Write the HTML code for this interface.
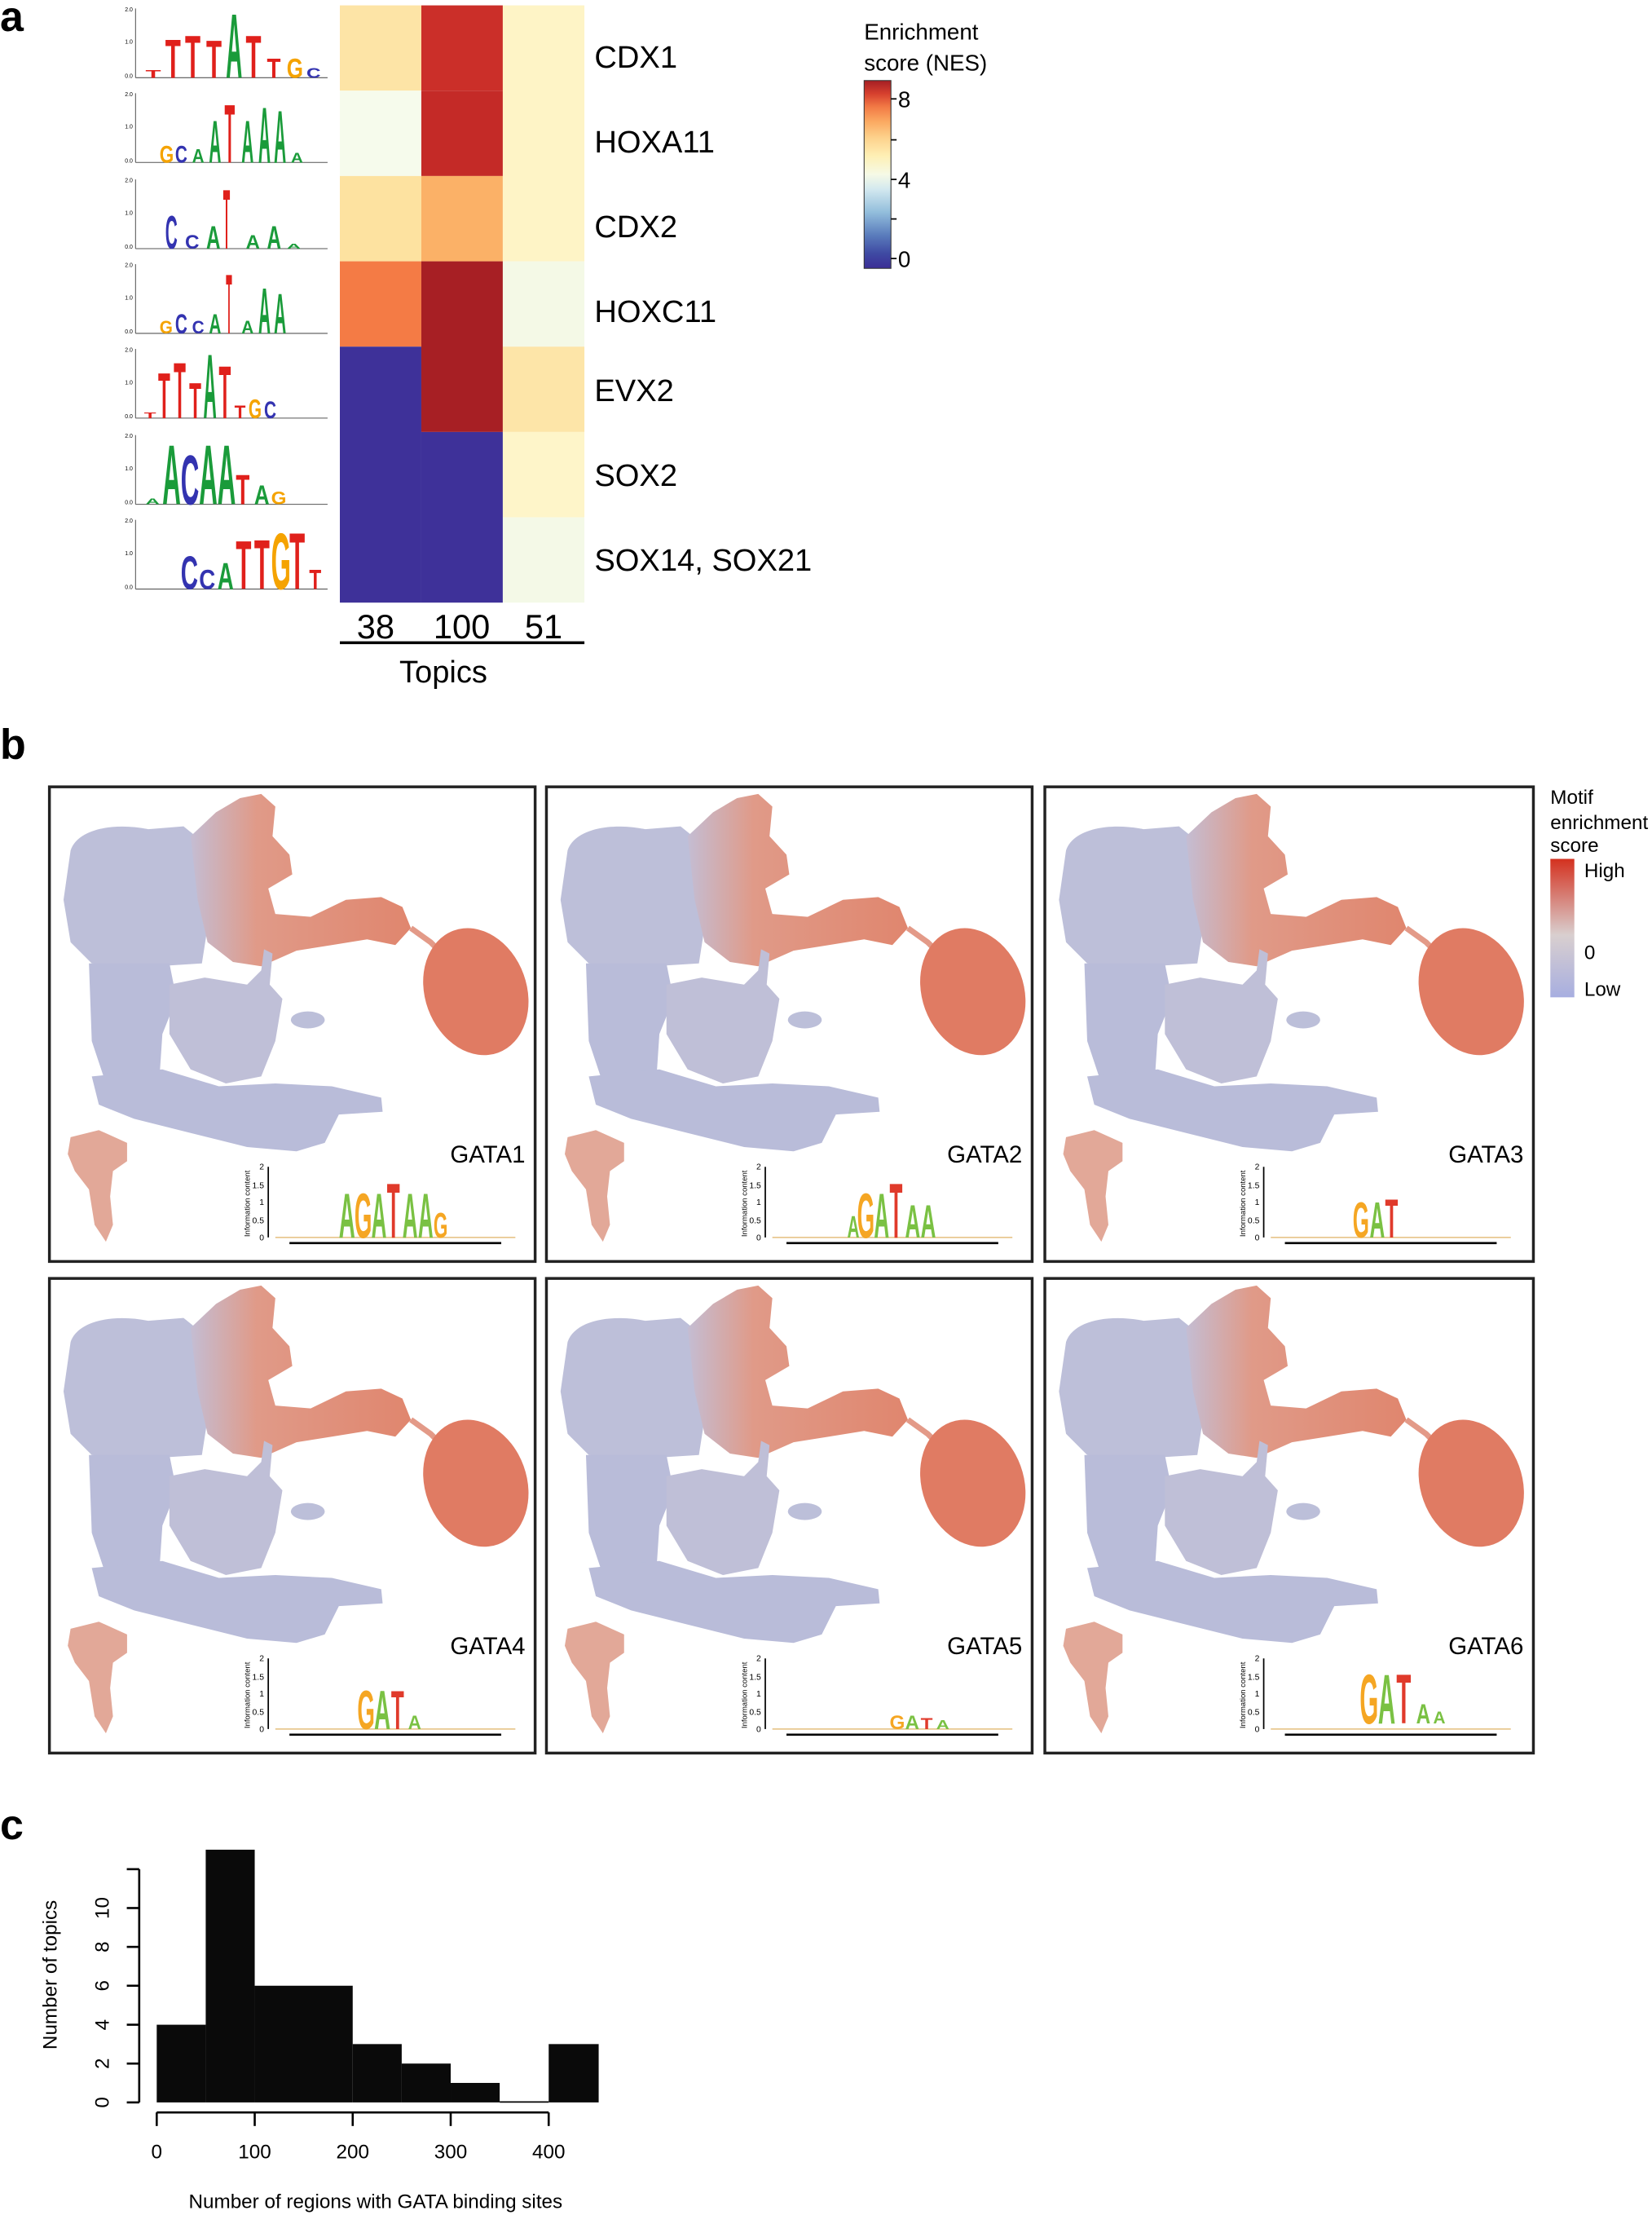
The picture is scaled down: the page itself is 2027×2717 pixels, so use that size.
<!DOCTYPE html>
<html><head><meta charset="utf-8"><style>
html,body{margin:0;padding:0;background:#fff}
svg{display:block}
text{font-family:"Liberation Sans",Arial,sans-serif}
</style></head><body>
<svg width="2027" height="2717" viewBox="0 0 1170 1568" preserveAspectRatio="none" xmlns="http://www.w3.org/2000/svg">
<defs>
<linearGradient id="nes" x1="0" y1="1" x2="0" y2="0">
<stop offset="0" stop-color="#3b2e96"/><stop offset="0.08" stop-color="#3f4aa3"/><stop offset="0.18" stop-color="#5b7ebd"/><stop offset="0.3" stop-color="#93bedc"/><stop offset="0.42" stop-color="#d2e8ef"/><stop offset="0.5" stop-color="#f6fae6"/><stop offset="0.6" stop-color="#feefb4"/><stop offset="0.7" stop-color="#fdd08a"/><stop offset="0.78" stop-color="#fbaa62"/><stop offset="0.86" stop-color="#f27a45"/><stop offset="0.93" stop-color="#d6402e"/><stop offset="1" stop-color="#a51e24"/>
</linearGradient>
<linearGradient id="mot" x1="0" y1="0" x2="0" y2="1">
<stop offset="0" stop-color="#d4311f"/><stop offset="0.55" stop-color="#d9cfcf"/><stop offset="1" stop-color="#a7aee0"/>
</linearGradient>
<linearGradient id="redb" x1="0" y1="0" x2="1" y2="0">
<stop offset="0" stop-color="#c4bdd3"/><stop offset="0.3" stop-color="#e09a88"/><stop offset="1" stop-color="#e0866e"/>
</linearGradient>
<g id="umap">
<path d="M15,45 C20,30 45,25 70,30 L95,28 L110,40 L115,80 L108,125 L60,128 L30,125 L15,110 L10,80 Z" fill="#bdbfd9"/>
<path d="M100,35 L118,18 L135,8 L150,5 L160,14 L158,35 L170,48 L172,62 L155,72 L160,90 L185,92 L210,80 L235,78 L250,85 L256,100 L245,112 L225,108 L200,112 L175,116 L150,127 L130,124 L112,110 L105,80 Z" fill="url(#redb)"/>
<path d="M256,100 L270,110 L282,122" stroke="#e39a88" stroke-width="4" fill="none"/>
<ellipse cx="302" cy="145" rx="36" ry="46" transform="rotate(-20 302 145)" fill="#e07b63"/>
<path d="M28,125 L85,125 L90,150 L80,175 L78,205 L40,210 L30,180 Z" fill="#b9bcd9"/>
<path d="M85,140 L110,135 L140,140 L150,130 L152,115 L158,118 L156,140 L165,150 L160,180 L150,205 L125,210 L100,200 L85,175 Z" fill="#bfbfd7"/>
<ellipse cx="183" cy="165" rx="12" ry="6" fill="#bcbfd9"/>
<path d="M30,205 L80,200 L120,212 L160,210 L200,212 L235,220 L236,230 L205,232 L195,252 L175,258 L140,255 L100,245 L60,235 L35,225 Z" fill="#b9bcd9"/>
<path d="M15,248 L35,243 L55,252 L55,265 L45,272 L43,290 L45,310 L40,322 L32,310 L28,285 L18,272 L13,260 Z" fill="#e2a898"/>
<line x1="155" y1="269" x2="155" y2="319" stroke="#000" stroke-width="1"/>
<g font-size="6" text-anchor="end"><text x="152" y="271">2</text><text x="152" y="284">1.5</text><text x="152" y="296">1</text><text x="152" y="309">0.5</text><text x="152" y="321">0</text></g>
<text transform="translate(142,295) rotate(-90)" font-size="5.5" text-anchor="middle">Information content</text>
<line x1="170" y1="323" x2="320" y2="323" stroke="#000" stroke-width="1.5"/>
<line x1="160" y1="319" x2="330" y2="319" stroke="#e8c890" stroke-width="1"/>
</g>
</defs>

<!-- Panel a -->
<text x="0" y="22" font-size="30" font-weight="bold">a</text>
<g>
<rect x="240.7" y="3.8" width="57.7" height="60.4" fill="#fde4a6"/>
<rect x="240.7" y="64.2" width="57.7" height="60.4" fill="#f6fbec"/>
<rect x="240.7" y="124.6" width="57.7" height="60.4" fill="#fde2a0"/>
<rect x="240.7" y="185" width="57.7" height="60.4" fill="#f47b45"/>
<rect x="240.7" y="245.4" width="57.7" height="181.2" fill="#3e3199"/>
<rect x="298.4" y="3.8" width="57.7" height="60.4" fill="#cb2f29"/>
<rect x="298.4" y="64.2" width="57.7" height="60.4" fill="#c42a27"/>
<rect x="298.4" y="124.6" width="57.7" height="60.4" fill="#fbb167"/>
<rect x="298.4" y="185" width="57.7" height="120.8" fill="#a71f24"/>
<rect x="298.4" y="305.8" width="57.7" height="120.8" fill="#3e3199"/>
<rect x="356.1" y="3.8" width="57.8" height="181.2" fill="#fef4c6"/>
<rect x="356.1" y="185" width="57.8" height="60.4" fill="#f4f9e6"/>
<rect x="356.1" y="245.4" width="57.8" height="60.4" fill="#fde5a8"/>
<rect x="356.1" y="305.8" width="57.8" height="60.4" fill="#fef5c9"/>
<rect x="356.1" y="366.2" width="57.8" height="60.4" fill="#f4f9e7"/>
</g>
<g font-size="22">
<text x="421" y="48">CDX1</text><text x="421" y="108">HOXA11</text><text x="421" y="168">CDX2</text><text x="421" y="228">HOXC11</text><text x="421" y="284">EVX2</text><text x="421" y="344">SOX2</text><text x="421" y="404">SOX14, SOX21</text>
</g>
<g font-size="24" text-anchor="middle"><text x="266" y="452">38</text><text x="327" y="452">100</text><text x="385" y="452">51</text></g>
<line x1="240.7" y1="455" x2="413.9" y2="455" stroke="#000" stroke-width="2"/>
<text x="314" y="483" font-size="22" text-anchor="middle">Topics</text>
<text x="612" y="28" font-size="16">Enrichment</text>
<text x="612" y="50" font-size="16">score (NES)</text>
<rect x="612" y="57" width="19" height="133" fill="url(#nes)" stroke="#333" stroke-width="0.6"/>
<g stroke="#000" stroke-width="1"><line x1="631" y1="70" x2="635" y2="70"/><line x1="631" y1="99" x2="635" y2="99"/><line x1="631" y1="127" x2="635" y2="127"/><line x1="631" y1="155" x2="635" y2="155"/><line x1="631" y1="183" x2="635" y2="183"/></g>
<g font-size="16"><text x="636" y="76">8</text><text x="636" y="133">4</text><text x="636" y="189">0</text></g>

<!-- sequence logos -->
<g font-size="4" text-anchor="end">
<text x="94" y="8">2.0</text><text x="94" y="31">1.0</text><text x="94" y="55">0.0</text>
<text x="94" y="68">2.0</text><text x="94" y="91">1.0</text><text x="94" y="115">0.0</text>
<text x="94" y="129">2.0</text><text x="94" y="152">1.0</text><text x="94" y="176">0.0</text>
<text x="94" y="189">2.0</text><text x="94" y="212">1.0</text><text x="94" y="236">0.0</text>
<text x="94" y="249">2.0</text><text x="94" y="272">1.0</text><text x="94" y="296">0.0</text>
<text x="94" y="310">2.0</text><text x="94" y="333">1.0</text><text x="94" y="357">0.0</text>
<text x="94" y="370">2.0</text><text x="94" y="393">1.0</text><text x="94" y="417">0.0</text>
</g>
<g stroke="#555" stroke-width="0.6">
<line x1="96" y1="6" x2="96" y2="55"/><line x1="96" y1="55" x2="232" y2="55"/>
<line x1="96" y1="66" x2="96" y2="115"/><line x1="96" y1="115" x2="232" y2="115"/>
<line x1="96" y1="127" x2="96" y2="176"/><line x1="96" y1="176" x2="232" y2="176"/>
<line x1="96" y1="187" x2="96" y2="236"/><line x1="96" y1="236" x2="232" y2="236"/>
<line x1="96" y1="247" x2="96" y2="296"/><line x1="96" y1="296" x2="232" y2="296"/>
<line x1="96" y1="308" x2="96" y2="357"/><line x1="96" y1="357" x2="232" y2="357"/>
<line x1="96" y1="368" x2="96" y2="417"/><line x1="96" y1="417" x2="232" y2="417"/>
</g>
<g font-size="10" font-weight="bold">
<!-- row0 CDX1 base 55 -->
<text fill="#e0201b" transform="translate(103,55) scale(1.8,0.8)">T</text>
<text fill="#e0201b" transform="translate(117,55) scale(1.8,3.9)">T</text>
<text fill="#e0201b" transform="translate(131,55) scale(1.8,4.3)">T</text>
<text fill="#e0201b" transform="translate(146,55) scale(1.8,3.8)">T</text>
<text fill="#1a9b3a" transform="translate(160,55) scale(1.6,6.5)">A</text>
<text fill="#e0201b" transform="translate(174,55) scale(1.8,4.3)">T</text>
<text fill="#e0201b" transform="translate(189,55) scale(1.6,2)">T</text>
<text fill="#f5a300" transform="translate(203,55) scale(1.5,2)">G</text>
<text fill="#3333b0" transform="translate(217,55) scale(1.4,1)">C</text>
<!-- row1 HOXA11 base 115 -->
<text fill="#f5a300" transform="translate(113,115) scale(1.3,1.7)">G</text>
<text fill="#3333b0" transform="translate(124,115) scale(1.2,1.7)">C</text>
<text fill="#1a9b3a" transform="translate(136,115) scale(1.2,1.4)">A</text>
<text fill="#1a9b3a" transform="translate(148,115) scale(1.2,4.3)">A</text>
<text fill="#e0201b" transform="translate(159,115) scale(1.2,5.9)">T</text>
<text fill="#1a9b3a" transform="translate(171,115) scale(1.2,4.3)">A</text>
<text fill="#1a9b3a" transform="translate(183,115) scale(1.2,5.6)">A</text>
<text fill="#1a9b3a" transform="translate(194,115) scale(1.2,5.3)">A</text>
<text fill="#1a9b3a" transform="translate(206,115) scale(1.2,1)">A</text>
<!-- row2 CDX2 base 176 -->
<text fill="#3333b0" transform="translate(117,176) scale(1.2,3.3)">C</text>
<text fill="#3333b0" transform="translate(131,176) scale(1.4,1.4)">C</text>
<text fill="#1a9b3a" transform="translate(146,176) scale(1.4,2.3)">A</text>
<text fill="#e0201b" transform="translate(158,176) scale(0.8,6)">T</text>
<text fill="#1a9b3a" transform="translate(174,176) scale(1.4,1.4)">A</text>
<text fill="#1a9b3a" transform="translate(189,176) scale(1.4,2.3)">A</text>
<text fill="#1a9b3a" transform="translate(203,176) scale(1.4,0.5)">A</text>
<!-- row3 HOXC11 base 236 -->
<text fill="#f5a300" transform="translate(113,236) scale(1.2,1.3)">G</text>
<text fill="#3333b0" transform="translate(124,236) scale(1.2,2)">C</text>
<text fill="#3333b0" transform="translate(136,236) scale(1.2,1.3)">C</text>
<text fill="#1a9b3a" transform="translate(148,236) scale(1.2,2)">A</text>
<text fill="#e0201b" transform="translate(160,236) scale(0.7,6)">T</text>
<text fill="#1a9b3a" transform="translate(171,236) scale(1.2,1.3)">A</text>
<text fill="#1a9b3a" transform="translate(183,236) scale(1.2,4.6)">A</text>
<text fill="#1a9b3a" transform="translate(194,236) scale(1.2,4)">A</text>
<!-- row4 EVX2 base 296 -->
<text fill="#e0201b" transform="translate(102,296) scale(1.4,0.6)">T</text>
<text fill="#e0201b" transform="translate(112,296) scale(1.4,4.6)">T</text>
<text fill="#e0201b" transform="translate(123,296) scale(1.4,5.6)">T</text>
<text fill="#e0201b" transform="translate(134,296) scale(1.4,3.6)">T</text>
<text fill="#1a9b3a" transform="translate(144,296) scale(1.3,6.5)">A</text>
<text fill="#e0201b" transform="translate(155,296) scale(1.4,5.3)">T</text>
<text fill="#e0201b" transform="translate(166,296) scale(1.3,1.3)">T</text>
<text fill="#f5a300" transform="translate(176,296) scale(1.2,1.9)">G</text>
<text fill="#3333b0" transform="translate(187,296) scale(1.2,1.7)">C</text>
<!-- row5 SOX2 base 357 -->
<text fill="#1a9b3a" transform="translate(103,357) scale(1.4,0.6)">A</text>
<text fill="#1a9b3a" transform="translate(115,357) scale(1.8,6)">A</text>
<text fill="#3333b0" transform="translate(128,357) scale(1.8,5)">C</text>
<text fill="#1a9b3a" transform="translate(141,357) scale(1.8,6)">A</text>
<text fill="#1a9b3a" transform="translate(154,357) scale(1.8,6)">A</text>
<text fill="#e0201b" transform="translate(167,357) scale(1.6,3)">T</text>
<text fill="#1a9b3a" transform="translate(180,357) scale(1.5,1.9)">A</text>
<text fill="#f5a300" transform="translate(192,357) scale(1.4,1.3)">G</text>
<!-- row6 SOX14 base 417 -->
<text fill="#3333b0" transform="translate(128,417) scale(1.7,3.3)">C</text>
<text fill="#3333b0" transform="translate(141,417) scale(1.6,2)">C</text>
<text fill="#1a9b3a" transform="translate(154,417) scale(1.6,2.7)">A</text>
<text fill="#e0201b" transform="translate(167,417) scale(1.8,4.9)">T</text>
<text fill="#e0201b" transform="translate(180,417) scale(1.8,5)">T</text>
<text fill="#f5a300" transform="translate(192,417) scale(1.8,5.7)">G</text>
<text fill="#e0201b" transform="translate(205,417) scale(1.8,5.7)">T</text>
<text fill="#e0201b" transform="translate(219,417) scale(1.4,2)">T</text>
</g>

<!-- Panel b -->
<text x="0" y="537" font-size="30" font-weight="bold">b</text>
<g fill="none" stroke="#222" stroke-width="2">
<rect x="35" y="557" width="344" height="336"/><rect x="387" y="557" width="344" height="336"/><rect x="740" y="557" width="346" height="336"/>
<rect x="35" y="905" width="344" height="336"/><rect x="387" y="905" width="344" height="336"/><rect x="740" y="905" width="346" height="336"/>
</g>
<use href="#umap" x="35" y="557"/><use href="#umap" x="387" y="557"/><use href="#umap" x="740" y="557"/>
<use href="#umap" x="35" y="905"/><use href="#umap" x="387" y="905"/><use href="#umap" x="740" y="905"/>
<g font-size="17" text-anchor="end">
<text x="372" y="823">GATA1</text><text x="724" y="823">GATA2</text><text x="1079" y="823">GATA3</text>
<text x="372" y="1171">GATA4</text><text x="724" y="1171">GATA5</text><text x="1079" y="1171">GATA6</text>
</g>
<g font-weight="bold">
<!-- GATA1 logo, base 876 -->
<text x="240" y="876" font-size="10" fill="#7ac143" transform="translate(0,0)"></text>
<text fill="#7ac143" font-size="10" transform="translate(240,876) scale(1.6,4.5)">A</text>
<text fill="#f5a623" font-size="10" transform="translate(251,876) scale(1.6,4.5)">G</text>
<text fill="#7ac143" font-size="10" transform="translate(263,876) scale(1.5,4.5)">A</text>
<text fill="#e03a2b" font-size="10" transform="translate(274,876) scale(1.5,5.5)">T</text>
<text fill="#7ac143" font-size="10" transform="translate(285,876) scale(1.5,4.5)">A</text>
<text fill="#7ac143" font-size="10" transform="translate(296,876) scale(1.5,4.5)">A</text>
<text fill="#f5a623" font-size="10" transform="translate(307,876) scale(1.3,2.5)">G</text>
<!-- GATA2 -->
<text fill="#7ac143" font-size="10" transform="translate(600,876) scale(1.2,2.2)">A</text>
<text fill="#f5a623" font-size="10" transform="translate(607,876) scale(1.6,4.5)">G</text>
<text fill="#7ac143" font-size="10" transform="translate(619,876) scale(1.5,4.5)">A</text>
<text fill="#e03a2b" font-size="10" transform="translate(630,876) scale(1.5,5.5)">T</text>
<text fill="#7ac143" font-size="10" transform="translate(641,876) scale(1.5,3.3)">A</text>
<text fill="#7ac143" font-size="10" transform="translate(652,876) scale(1.5,3.3)">A</text>
<!-- GATA3 -->
<text fill="#f5a623" font-size="10" transform="translate(958,876) scale(1.5,3.6)">G</text>
<text fill="#7ac143" font-size="10" transform="translate(970,876) scale(1.5,3.6)">A</text>
<text fill="#e03a2b" font-size="10" transform="translate(981,876) scale(1.5,3.9)">T</text>
<!-- GATA4 -->
<text fill="#f5a623" font-size="10" transform="translate(253,1224) scale(1.6,3.9)">G</text>
<text fill="#7ac143" font-size="10" transform="translate(265,1224) scale(1.6,3.9)">A</text>
<text fill="#e03a2b" font-size="10" transform="translate(277,1224) scale(1.5,3.9)">T</text>
<text fill="#7ac143" font-size="10" transform="translate(289,1224) scale(1.3,1.4)">A</text>
<!-- GATA5 -->
<text fill="#f5a623" font-size="10" transform="translate(630,1224) scale(1.4,1.4)">G</text>
<text fill="#7ac143" font-size="10" transform="translate(641,1224) scale(1.4,1.4)">A</text>
<text fill="#e03a2b" font-size="10" transform="translate(652,1224) scale(1.4,1.1)">T</text>
<text fill="#7ac143" font-size="10" transform="translate(663,1224) scale(1.3,0.9)">A</text>
<!-- GATA6 -->
<text fill="#f5a623" font-size="10" transform="translate(963,1220) scale(1.7,5)">G</text>
<text fill="#7ac143" font-size="10" transform="translate(976,1220) scale(1.7,5)">A</text>
<text fill="#e03a2b" font-size="10" transform="translate(989,1220) scale(1.7,5)">T</text>
<text fill="#7ac143" font-size="10" transform="translate(1003,1220) scale(1.4,2)">A</text>
<text fill="#7ac143" font-size="10" transform="translate(1015,1220) scale(1.2,1.2)">A</text>
</g>
<g font-size="14">
<text x="1098" y="569">Motif</text><text x="1098" y="587">enrichment</text><text x="1098" y="603">score</text>
<text x="1122" y="621">High</text><text x="1122" y="679">0</text><text x="1122" y="705">Low</text>
</g>
<rect x="1098" y="608" width="17" height="98" fill="url(#mot)"/>

<!-- Panel c -->
<text x="0" y="1302" font-size="30" font-weight="bold">c</text>
<g fill="#0a0a0a">
<rect x="111" y="1433.3" width="34.7" height="55"/>
<rect x="145.7" y="1309.4" width="34.7" height="178.9"/>
<rect x="180.4" y="1405.7" width="69.4" height="82.6"/>
<rect x="249.8" y="1447" width="34.7" height="41.3"/>
<rect x="284.5" y="1460.8" width="34.7" height="27.5"/>
<rect x="319.2" y="1474.5" width="34.7" height="13.8"/>
<rect x="388.6" y="1447" width="35.4" height="41.3"/>
</g>
<line x1="353.9" y1="1488" x2="388.6" y2="1488" stroke="#000" stroke-width="1"/>
<g stroke="#000" stroke-width="1.5">
<line x1="98.6" y1="1323.2" x2="98.6" y2="1488.3"/>
<line x1="89.8" y1="1488.3" x2="98.6" y2="1488.3"/><line x1="89.8" y1="1460.8" x2="98.6" y2="1460.8"/><line x1="89.8" y1="1433.3" x2="98.6" y2="1433.3"/><line x1="89.8" y1="1405.7" x2="98.6" y2="1405.7"/><line x1="89.8" y1="1378.2" x2="98.6" y2="1378.2"/><line x1="89.8" y1="1350.7" x2="98.6" y2="1350.7"/><line x1="89.8" y1="1323.2" x2="98.6" y2="1323.2"/>
<line x1="111" y1="1495.4" x2="388.6" y2="1495.4"/>
<line x1="111" y1="1495.4" x2="111" y2="1505"/><line x1="180.4" y1="1495.4" x2="180.4" y2="1505"/><line x1="249.8" y1="1495.4" x2="249.8" y2="1505"/><line x1="319.2" y1="1495.4" x2="319.2" y2="1505"/><line x1="388.6" y1="1495.4" x2="388.6" y2="1505"/>
</g>
<g font-size="14" text-anchor="middle">
<text transform="translate(77,1488.3) rotate(-90)">0</text>
<text transform="translate(77,1460.8) rotate(-90)">2</text>
<text transform="translate(77,1433.3) rotate(-90)">4</text>
<text transform="translate(77,1405.7) rotate(-90)">6</text>
<text transform="translate(77,1378.2) rotate(-90)">8</text>
<text transform="translate(77,1350.7) rotate(-90)">10</text>
<text x="111" y="1528">0</text><text x="180.4" y="1528">100</text><text x="249.8" y="1528">200</text><text x="319.2" y="1528">300</text><text x="388.6" y="1528">400</text>
<text transform="translate(40,1398) rotate(-90)">Number of topics</text>
<text x="266" y="1563">Number of regions with GATA binding sites</text>
</g>
</svg>
</body></html>
